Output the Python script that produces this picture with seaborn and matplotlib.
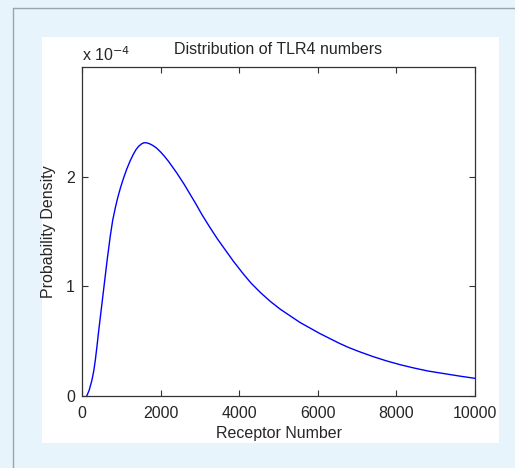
import numpy as np
import pandas as pd
import seaborn as sns
import matplotlib.pyplot as plt
from matplotlib.patches import Rectangle
from matplotlib.lines import Line2D

# values (density in units of 1e-4)
receptor_number = [120, 180, 250, 300, 340, 380, 420, 470, 510, 560,
                   600, 640, 680, 720, 780, 850, 910, 980, 1060, 1140,
                   1220, 1300, 1380, 1450, 1520, 1580, 1650, 1720, 1800,
                   1900, 2000, 2100, 2200, 2300, 2400, 2500, 2600, 2750,
                   2900, 3050, 3250, 3450, 3650, 3850, 4100, 4300, 4550,
                   4800, 5050, 5300, 5550, 5800, 6050, 6300, 6550, 6800,
                   7050, 7400, 7750, 8100, 8450, 8800, 9200, 9600, 10000]
density_e4 = [0.0, 0.05, 0.14, 0.23, 0.33, 0.45, 0.58, 0.73, 0.85, 1.00,
              1.12, 1.24, 1.35, 1.46, 1.60, 1.72, 1.81, 1.90, 1.99, 2.07,
              2.14, 2.20, 2.25, 2.28, 2.30, 2.31, 2.308, 2.30, 2.285,
              2.26, 2.225, 2.185, 2.14, 2.09, 2.04, 1.985, 1.93, 1.84,
              1.75, 1.655, 1.54, 1.43, 1.33, 1.23, 1.115, 1.03, 0.94,
              0.86, 0.79, 0.73, 0.67, 0.62, 0.57, 0.525, 0.48, 0.44,
              0.405, 0.36, 0.32, 0.285, 0.255, 0.228, 0.205, 0.182, 0.161]
x_ticks = [0, 2000, 4000, 6000, 8000, 10000]
y_ticks = [0, 1, 2]

sns.set_style("ticks")
plt.rcParams["font.family"] = ["Liberation Sans", "DejaVu Sans"]
plt.rcParams["font.size"] = 11.5

W, H = 515, 468
fig = plt.figure(figsize=(W / 100, H / 100), dpi=100)
fig.patch.set_facecolor("#e8f4fb")

#outer gray frame lines + white panel
fig.add_artist(Line2D([13 / W, 13 / W], [0, 1 - 8 / H], color="#9aa4ab", lw=1))
fig.add_artist(Line2D([13 / W, 1], [1 - 8 / H, 1 - 8 / H], color="#9aa4ab", lw=1))
fig.add_artist(Rectangle((42 / W, 1 - 443 / H), 457 / W, 406 / H,
                         facecolor="white", edgecolor="none", zorder=0))

ax = fig.add_axes([82 / W, 1 - 396 / H, 393 / W, 329 / H])
ax.set_facecolor("white")

df = pd.DataFrame({"Receptor Number": receptor_number, "density": density_e4})
sns.lineplot(data=df, x="Receptor Number", y="density", ax=ax,
             color="blue", lw=1)

ax.set_xlim(0, 10000)
ax.set_ylim(0, 3)
ax.set_xticks(x_ticks)
ax.set_yticks(y_ticks)
ax.set_xticklabels([str(t) for t in x_ticks])
ax.set_yticklabels([str(t) for t in y_ticks])
ax.tick_params(direction="in", length=4, width=0.8, color="#333333",
               top=True, right=True, labelsize=11.5, pad=5)
ax.tick_params(axis="x", pad=7)

for s in ax.spines.values():
    s.set_visible(True)
    s.set_color("#333333")
    s.set_linewidth(0.9)

ax.set_xlabel("Receptor Number", fontsize=11.5, labelpad=4)
ax.set_ylabel("Probability Density", fontsize=11.5, labelpad=7)
ax.set_title("Distribution of TLR4 numbers", fontsize=11.5, pad=9)
ax.text(0.0, 1.01, r"x 10$^{-4}$", transform=ax.transAxes,
        ha="left", va="bottom", fontsize=11.5)

plt.savefig("out.png", dpi=100, facecolor=fig.get_facecolor())
